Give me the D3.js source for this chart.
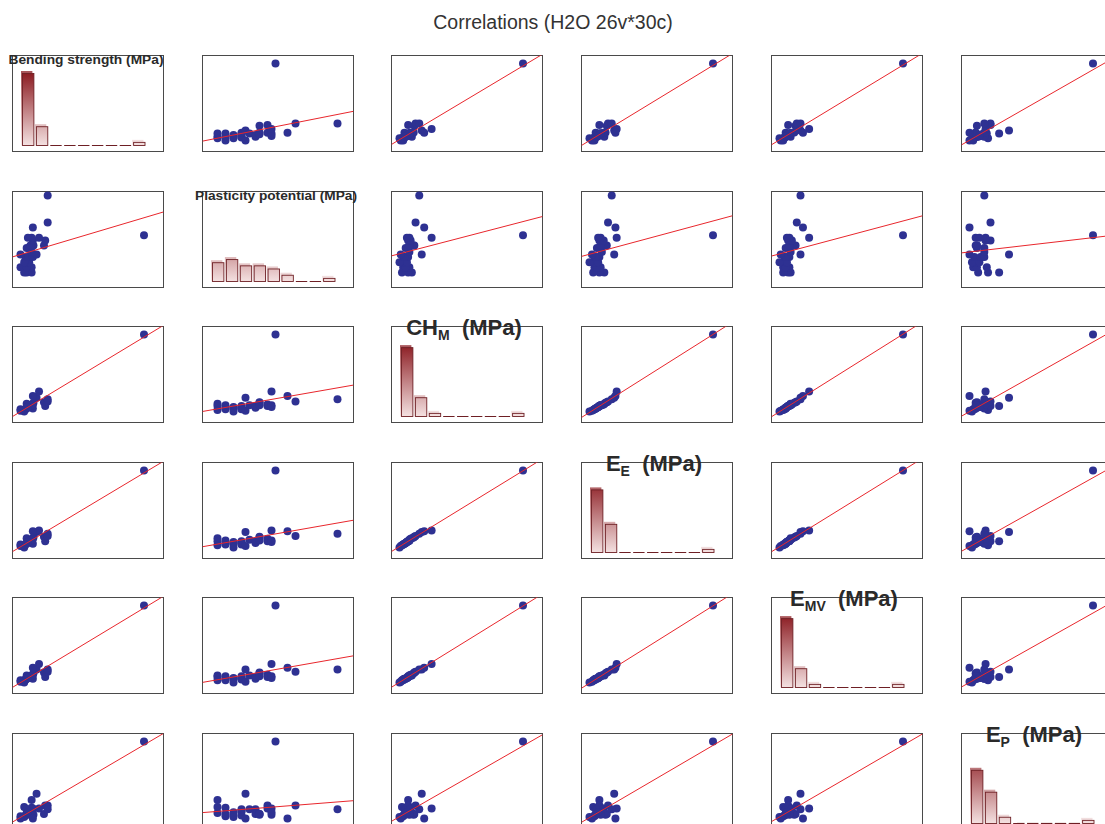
<!DOCTYPE html>
<html>
<head>
<meta charset="utf-8">
<script src="https://cdn.jsdelivr.net/npm/d3@7"></script>
<style>
  html, body { margin: 0; padding: 0; background: #fff; }
  svg { display: block; }
</style>
</head>
<body>
<svg id="chart" width="1105" height="824"></svg>
<script>
// ---------------- DATA (30 observations, 6 variables) ----------------
const chartTitle = "Correlations (H2O 26v*30c)";

const bendingStrength = [2.80, 3.44, 2.48, 3.44, 2.00, 2.80, 2.80, 3.12, 2.48, 3.28,
                         2.64, 2.96, 3.60, 4.08, 2.00, 3.44, 2.80, 3.12, 5.04, 3.68,
                         3.28, 5.20, 3.60, 4.40, 3.44, 2.96, 18.00, 3.60, 5.52, 5.52];
const plasticityPotential = [3.0, 3.0, 3.0, 3.4, 3.4, 3.4, 3.8, 3.8, 3.8, 4.2,
                             4.2, 4.2, 4.2, 4.4, 4.4, 4.6, 4.9, 4.9, 5.1, 5.1,
                             5.1, 5.5, 5.5, 5.7, 5.7, 5.7, 5.9, 6.5, 6.9, 9.0];
const chM = [18.0, 15.6, 11.6, 16.4, 12.4, 14.0, 13.2, 14.8, 10.0, 15.6,
             12.4, 14.8, 13.2, 24.4, 10.8, 16.4, 14.0, 15.6, 19.6, 19.2,
             16.4, 15.6, 17.2, 30.8, 16.4, 14.8, 90.0, 26.0, 20.4, 22.8];
const eE = [98, 82, 62, 86, 66, 74, 70, 78, 50, 82,
            66, 78, 70, 130, 58, 90, 74, 82, 106, 102,
            86, 82, 96, 138, 86, 78, 450, 134, 110, 122];
const eMV = [52.5, 47.5, 37.5, 50, 37.5, 42.5, 42.5, 45, 30, 50,
             40, 45, 42.5, 72.5, 32.5, 52.5, 42.5, 47.5, 62.5, 60,
             50, 47.5, 55, 90, 50, 45, 280, 77.5, 65, 72.5];
const eP = [30.5, 56, 42.5, 41, 24.5, 29, 27.5, 32, 23, 35,
            26, 33.5, 38, 68, 20, 38, 38, 29, 29, 27.5,
            29, 45.5, 39.5, 39.5, 27.5, 32, 170, 20, 45.5, 38];

// Variable labels: main text, subscript, trailing text
const labelMain = ["Bending strength (MPa)", "Plasticity potential (MPa)", "CH", "E", "E", "E"];
const labelSub  = ["", "", "M", "E", "MV", "P"];
const labelRest = ["", "", "  (MPa)", "  (MPa)", "  (MPa)", "  (MPa)"];

const histBins = 9;

// ---------------- LAYOUT ----------------
const variables = [bendingStrength, plasticityPotential, chM, eE, eMV, eP];
const n = variables.length;
const cellLeft0 = 11.7, colStep = 189.8, cellTop0 = 55, rowStep = 135.5;
const cellW = 151, cellH = 96;
const smallLabelWidth = [155, 162];
// padding (px) between box and data range
const padX = (v) => v === 1 ? [15, 16] : [8, 19.5];
const padY = (v) => v === 1 ? [15, 4] : [11, 8];   // [bottom, top]

const svg = d3.select("#chart");
const defs = svg.append("defs");

svg.append("text")
  .attr("x", 553).attr("y", 29)
  .attr("text-anchor", "middle")
  .attr("font-family", "'Liberation Sans', Arial, sans-serif")
  .attr("font-size", 19.5)
  .attr("fill", "#333")
  .text(chartTitle);

const pointColor = "#2e3192";
const lineColor = "#e8262c";

for (let r = 0; r < n; r++) {
  for (let c = 0; c < n; c++) {
    const left = Math.round(cellLeft0 + c * colStep) + 0.5;
    const top = Math.round(cellTop0 + r * rowStep) + 0.5;
    const right = left + cellW, bottom = top + cellH;
    const g = svg.append("g");
    const clipId = `clip-${r}-${c}`;
    defs.append("clipPath").attr("id", clipId)
      .append("rect").attr("x", left).attr("y", top).attr("width", cellW).attr("height", cellH);

    g.append("rect")
      .attr("x", left).attr("y", top).attr("width", cellW).attr("height", cellH)
      .attr("fill", "#fff").attr("stroke", "#4a4a4a").attr("stroke-width", 1);

    if (r === c) {
      // histogram
      const vals = variables[c];
      const [mn, mx] = d3.extent(vals);
      const thresholds = d3.range(1, histBins).map(i => mn + i * (mx - mn) / histBins);
      const bins = d3.bin().domain([mn, mx]).thresholds(thresholds)(vals);
      const hx = d3.scaleLinear().domain([mn, mx]).range([left + 9.5, right - 16.5]);
      const base = bottom - 6;
      const hy = d3.scaleLinear().domain([0, 23]).range([base, base - 72]);
      const gradId = `grad-${c}`;
      const grad = defs.append("linearGradient").attr("id", gradId)
        .attr("gradientUnits", "userSpaceOnUse")
        .attr("x1", 0).attr("x2", 0).attr("y1", hy(23)).attr("y2", base);
      grad.append("stop").attr("offset", 0).attr("stop-color", "#8c1c22");
      grad.append("stop").attr("offset", 1).attr("stop-color", "#f4e1e1");
      const hg = g.append("g").attr("clip-path", `url(#${clipId})`);
      bins.forEach(b => {
        const x0 = hx(b.x0) + 0.5, w = hx(b.x1) - hx(b.x0) - 2.5;
        const y = hy(b.length), h = base - y;
        if (b.length > 0) {
          hg.append("rect").attr("x", x0 - 1.5).attr("y", y - 2.5)
            .attr("width", w).attr("height", h + 2.5)
            .attr("fill", `url(#${gradId})`).attr("opacity", 0.75);
          hg.append("rect").attr("x", x0).attr("y", y).attr("width", w).attr("height", h)
            .attr("fill", `url(#${gradId})`).attr("stroke", "#6e1f24").attr("stroke-width", 0.9);
        } else {
          hg.append("line").attr("x1", x0).attr("x2", x0 + w).attr("y1", base).attr("y2", base)
            .attr("stroke", "#6e1f24").attr("stroke-width", 1.2);
        }
      });
      // label
      const cx = left + cellW / 2;
      if (labelSub[c] === "") {
        g.append("text")
          .attr("x", cx - 2).attr("y", top + 8.5)
          .attr("text-anchor", "middle")
          .attr("font-family", "'Liberation Sans', Arial, sans-serif")
          .attr("font-weight", "bold").attr("font-size", 13)
          .attr("textLength", smallLabelWidth[c])
          .attr("lengthAdjust", "spacingAndGlyphs")
          .attr("fill", "#2a2a2a")
          .text(labelMain[c]);
      } else {
        const t = g.append("text")
          .attr("x", cx - 3).attr("y", top + 8)
          .attr("text-anchor", "middle")
          .attr("font-family", "'Liberation Sans', Arial, sans-serif")
          .attr("font-weight", "bold").attr("font-size", 22)
          .attr("fill", "#2a2a2a")
          .attr("xml:space", "preserve")
          .style("white-space", "pre");
        t.append("tspan").text(labelMain[c]);
        t.append("tspan").attr("font-size", 14).attr("dy", 5).text(labelSub[c]);
        t.append("tspan").attr("dy", -5).text(labelRest[c]);
      }
    } else {
      const xv = variables[c], yv = variables[r];
      const [pxl, pxr] = padX(c);
      const [pyb, pyt] = padY(r);
      const x = d3.scaleLinear().domain(d3.extent(xv)).range([left + pxl, right - pxr]);
      const y = d3.scaleLinear().domain(d3.extent(yv)).range([bottom - pyb, top + pyt]);
      // regression of y on x
      const mxv = d3.mean(xv), myv = d3.mean(yv);
      let sxy = 0, sxx = 0;
      xv.forEach((xi, i) => { sxy += (xi - mxv) * (yv[i] - myv); sxx += (xi - mxv) ** 2; });
      const slope = sxy / sxx, icpt = myv - slope * mxv;
      const xa = x.invert(left), xb = x.invert(right);
      g.selectAll("circle").data(xv.map((d, i) => [d, yv[i]])).join("circle")
        .attr("cx", d => x(d[0])).attr("cy", d => y(d[1])).attr("r", 4)
        .attr("fill", pointColor);
      g.append("line").attr("clip-path", `url(#${clipId})`)
        .attr("x1", x(xa)).attr("y1", y(icpt + slope * xa))
        .attr("x2", x(xb)).attr("y2", y(icpt + slope * xb))
        .attr("stroke", lineColor).attr("stroke-width", 1);
    }
  }
}
</script>
</body>
</html>
